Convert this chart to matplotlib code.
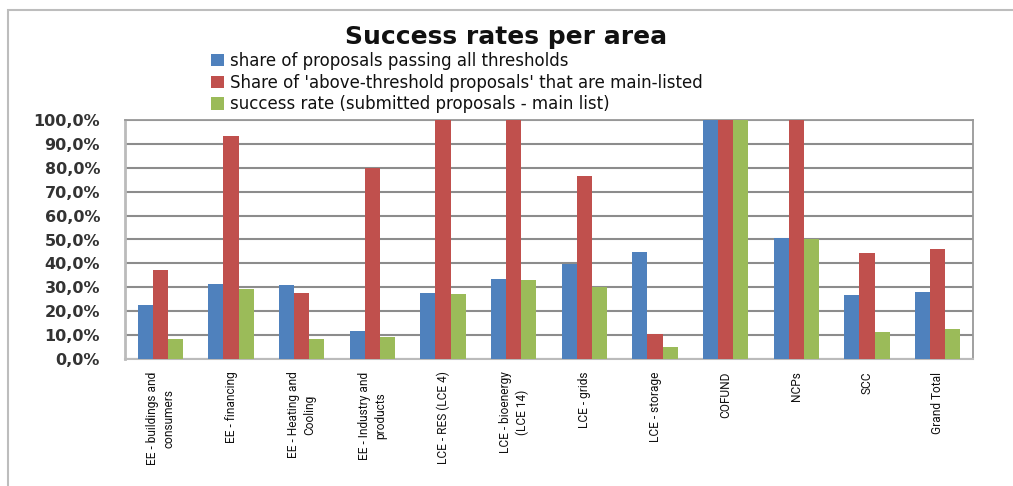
import matplotlib
matplotlib.use("Agg")
import matplotlib.pyplot as plt
import numpy as np
from matplotlib.patches import Rectangle
from matplotlib.ticker import FuncFormatter

categories = ["EE - buildings and\nconsumers", "EE - financing", "EE - Heating and\nCooling",
              "EE - Industry and\nproducts", "LCE - RES (LCE 4)", "LCE - bioenergy\n(LCE 14)",
              "LCE - grids", "LCE - storage", "COFUND", "NCPs", "SCC", "Grand Total"]
share_passing = [22.6, 31.2, 31.0, 11.9, 27.7, 33.3, 39.7, 44.8, 100.0, 50.5, 26.8, 27.9]
share_mainlisted = [37.2, 93.4, 27.5, 80.0, 100.0, 100.0, 76.6, 10.6, 100.0, 100.0, 44.2, 45.9]
success_rate = [8.5, 29.3, 8.5, 9.0, 27.4, 33.0, 30.3, 4.9, 100.0, 50.1, 11.4, 12.5]
series_labels = ["share of proposals passing all thresholds",
                 "Share of 'above-threshold proposals' that are main-listed",
                 "success rate (submitted proposals - main list)"]
colors = ["#4F81BD", "#C0504D", "#9BBB59"]

plt.rcParams['font.family'] = ['DejaVu Sans']

fig = plt.figure(figsize=(10.13, 4.86), dpi=100)
ax = fig.add_axes([125/1013, 1-359/486, (973-125)/1013, (359-120)/486])

x = np.arange(len(categories))
w = 0.215
handles = []
for i, (vals, lab, c) in enumerate(zip([share_passing, share_mainlisted, success_rate], series_labels, colors)):
    b = ax.bar(x + (i-1)*w, vals, width=w, color=c, label=lab, zorder=3)
    handles.append(b)

ax.set_xlim(-0.5, len(categories)-0.5)
ax.set_ylim(0, 100)
ax.set_yticks(np.arange(0, 101, 10))
ax.yaxis.set_major_formatter(FuncFormatter(lambda v, p: f"{v:.1f}".replace(".", ",") + "%"))
ax.grid(axis="y", color="#8c8c8c", linewidth=1.5, zorder=0)
for s in ["top", "right"]:
    ax.spines[s].set_color("#999999")
    ax.spines[s].set_linewidth(1.3)
ax.spines["bottom"].set_color("#bbbbbb")
ax.spines["bottom"].set_linewidth(1.5)
ax.spines["left"].set_color("#bbbbbb")
ax.spines["left"].set_linewidth(2)
ax.tick_params(axis="y", length=0, pad=18, labelsize=11.5, labelcolor="#333333")
for t in ax.get_yticklabels():
    t.set_fontweight("bold")
ax.set_xticks(x)
ax.set_xticklabels(categories, rotation=90, va="top", ha="center", multialignment="center",
                   fontsize=8.6, family=["Liberation Sans Narrow", "Roboto", "DejaVu Sans"], color="#111111",
                   linespacing=1.35)
ax.tick_params(axis="x", length=0, pad=9)

fig.text(0.5, 1-37/486, "Success rates per area", ha="center", va="center",
         fontsize=18, fontweight="bold", color="#111111")

leg = fig.legend(handles=handles, labels=series_labels, loc="upper left",
                 bbox_to_anchor=(211/1013, 1-52/486), frameon=False,
                 prop={"size": 12}, handlelength=0.75, handleheight=0.75,
                 handletextpad=0.4, labelspacing=0.22, borderaxespad=0, borderpad=0)
for t in leg.get_texts():
    t.set_color("#111111")

fig.patches.append(Rectangle((8/1013, -0.1), 1.2, 1-10/486+0.1, transform=fig.transFigure,
                             fill=False, edgecolor="#bdbdbd", linewidth=1.5))

fig.savefig("out.png", dpi=100)
